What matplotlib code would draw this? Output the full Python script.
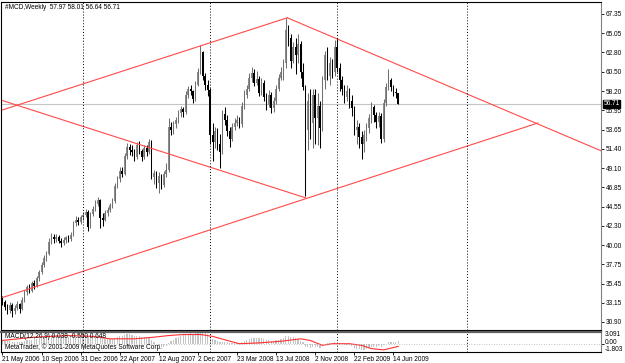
import numpy as np
import matplotlib
matplotlib.use("Agg")
import matplotlib.pyplot as plt

plt.rcParams["font.family"] = ["Liberation Sans Narrow", "Liberation Sans", "DejaVu Sans"]

# weekly candles, week 0 = 21 May 2006
opens = [33.6, 33.3, 32.7, 32.3, 32.9, 32.2, 32.6, 33.0, 32.4, 33.5,
         34.4, 35.0, 34.6, 35.5, 35.2, 36.1, 36.8, 37.7, 38.5, 38.9,
         40.4, 41.0, 40.7, 41.0, 40.5, 40.2, 40.6, 40.9, 40.7, 41.2,
         42.6, 43.0, 42.7, 43.3, 43.6, 43.9, 42.1, 43.7, 44.3, 44.9,
         45.3, 43.2, 43.0, 43.8, 44.2, 44.7, 45.2, 47.0, 47.8, 48.8,
         48.4, 50.5, 51.6, 51.2, 51.0, 50.4, 51.8, 51.1, 50.4, 51.5,
         51.0, 52.2, 48.0, 48.5, 47.3, 48.2, 47.1, 48.4, 48.9, 54.0,
         53.6, 54.3, 54.8, 55.6, 56.1, 55.7, 57.8, 58.5, 58.2, 57.3,
         59.0, 60.5, 62.8, 60.0, 59.0, 58.3, 53.0, 52.2, 53.5, 52.0,
         51.0, 55.5, 54.8, 53.5, 52.6, 54.0, 54.5, 54.8, 54.3, 56.5,
         57.8, 58.5, 59.8, 60.4, 59.2, 59.6, 58.0, 59.2, 57.5, 56.6,
         57.8, 56.2, 57.0, 58.5, 59.8, 60.5, 61.5, 65.5, 64.5, 61.8,
         63.5, 62.5, 63.8, 60.5, 58.7, 53.6, 57.0, 54.5, 57.8, 55.0,
         56.5, 53.8, 59.5, 62.5, 60.0, 61.5, 60.5, 63.5, 61.0, 59.5,
         58.5, 57.5, 58.2, 57.0, 56.2, 53.6, 54.0, 52.8, 52.0, 53.0,
         53.8, 55.0, 56.3, 55.4, 54.6, 55.3, 52.5, 56.8, 58.7, 59.5,
         58.7, 58.1, 57.97]
highs = [34.0, 33.5, 33.0, 33.3, 33.1, 32.9, 33.4, 33.2, 33.8, 34.7,
         35.3, 35.4, 35.8, 35.9, 36.4, 37.1, 38.0, 38.8, 39.3, 40.8,
         41.4, 41.3, 41.3, 41.2, 40.8, 40.9, 41.1, 41.2, 41.5, 42.9,
         43.4, 43.3, 43.6, 43.9, 44.3, 44.1, 43.9, 44.6, 45.3, 45.7,
         45.5, 43.8, 44.1, 44.5, 45.0, 45.6, 47.3, 48.2, 49.2, 49.3,
         50.9, 52.1, 52.0, 51.9, 51.4, 52.2, 52.3, 51.4, 51.9, 51.9,
         52.6, 52.4, 48.9, 48.8, 48.6, 48.4, 48.8, 49.7, 55.0, 54.6,
         54.7, 55.2, 56.0, 56.5, 56.4, 58.2, 58.8, 58.9, 58.4, 59.4,
         61.0, 63.7, 63.0, 60.4, 59.5, 58.6, 54.5, 54.0, 53.9, 53.2,
         56.0, 56.3, 55.4, 54.0, 54.5, 55.0, 55.4, 55.2, 56.9, 58.3,
         59.0, 60.4, 61.1, 60.8, 60.6, 60.0, 59.8, 59.5, 58.0, 58.3,
         58.1, 57.5, 58.9, 60.3, 61.1, 62.0, 66.9, 66.0, 65.0, 64.0,
         64.5, 65.0, 64.2, 61.5, 59.0, 58.0, 58.5, 58.5, 58.5, 58.0,
         57.0, 60.0, 63.0, 63.5, 62.3, 62.0, 64.3, 64.5, 61.5, 60.0,
         59.0, 59.0, 58.6, 57.8, 56.5, 54.8, 54.5, 53.5, 53.6, 54.4,
         55.5, 56.9, 56.6, 55.8, 55.8, 55.6, 57.3, 59.2, 60.8, 59.8,
         59.0, 58.6, 58.01]
lows = [32.9, 32.3, 31.8, 32.0, 31.5, 31.9, 32.3, 32.0, 32.3, 33.3,
        34.1, 34.3, 34.4, 34.8, 35.0, 35.8, 36.6, 37.4, 38.1, 38.8,
        40.1, 40.3, 40.4, 40.2, 39.8, 40.0, 40.3, 40.4, 40.5, 41.1,
        42.3, 42.4, 42.5, 43.0, 43.3, 41.7, 42.0, 43.4, 44.0, 44.6,
        42.0, 42.3, 42.8, 43.4, 43.9, 44.4, 45.0, 46.8, 47.5, 48.0,
        48.3, 50.2, 50.7, 50.5, 49.9, 50.2, 50.8, 49.9, 50.2, 50.6,
        50.8, 47.8, 47.2, 46.8, 46.2, 46.6, 46.9, 48.0, 48.7, 53.0,
        53.2, 53.9, 54.5, 55.2, 55.2, 55.5, 57.4, 57.8, 56.8, 57.1,
        58.8, 60.2, 59.5, 58.4, 57.6, 52.0, 50.0, 51.5, 51.3, 49.1,
        50.8, 54.2, 52.9, 51.6, 52.3, 53.6, 54.1, 53.8, 54.0, 56.1,
        57.4, 58.2, 59.3, 58.8, 58.9, 57.6, 57.8, 57.0, 56.0, 56.3,
        55.6, 55.8, 56.7, 58.2, 59.5, 59.5, 61.0, 63.6, 61.0, 61.5,
        60.2, 61.5, 59.8, 58.3, 45.8, 51.3, 52.5, 51.5, 52.0, 51.8,
        51.5, 53.5, 58.5, 59.5, 59.0, 59.8, 60.0, 60.5, 58.2, 57.8,
        56.8, 57.0, 56.2, 55.3, 53.0, 52.0, 51.5, 50.2, 51.0, 52.3,
        53.3, 54.5, 54.6, 53.8, 54.0, 52.1, 52.2, 56.5, 58.3, 58.2,
        57.6, 57.4, 56.64]
closes = [33.3, 32.7, 32.3, 32.9, 32.2, 32.6, 33.0, 32.4, 33.5, 34.4,
          35.0, 34.6, 35.5, 35.2, 36.1, 36.8, 37.7, 38.5, 38.9, 40.4,
          41.0, 40.7, 41.0, 40.5, 40.2, 40.6, 40.9, 40.7, 41.2, 42.6,
          43.0, 42.7, 43.3, 43.6, 43.9, 42.1, 43.7, 44.3, 44.9, 45.3,
          43.2, 43.0, 43.8, 44.2, 44.7, 45.2, 47.0, 47.8, 48.8, 48.4,
          50.5, 51.6, 51.2, 51.0, 50.4, 51.8, 51.1, 50.4, 51.5, 51.0,
          52.2, 48.0, 48.5, 47.3, 48.2, 47.1, 48.4, 48.9, 54.0, 53.6,
          54.3, 54.8, 55.6, 56.1, 55.7, 57.8, 58.5, 58.2, 57.3, 59.0,
          60.5, 62.8, 60.0, 59.0, 58.3, 53.0, 52.2, 53.5, 52.0, 51.0,
          55.5, 54.8, 53.5, 52.6, 54.0, 54.5, 54.8, 54.3, 56.5, 57.8,
          58.5, 59.8, 60.4, 59.2, 59.6, 58.0, 59.2, 57.5, 56.6, 57.8,
          56.2, 57.0, 58.5, 59.8, 60.5, 61.5, 65.5, 64.5, 61.8, 63.5,
          62.5, 63.8, 60.5, 58.7, 53.6, 57.0, 54.5, 57.8, 55.0, 56.5,
          53.8, 59.5, 62.5, 60.0, 61.5, 60.5, 63.5, 61.0, 59.5, 58.5,
          57.5, 58.2, 57.0, 56.2, 53.6, 54.0, 52.8, 52.0, 53.0, 53.8,
          55.0, 56.3, 55.4, 54.6, 55.3, 52.5, 56.8, 58.7, 59.5, 58.7,
          58.1, 57.97, 56.71]

# MACD subwindow (histogram = main line, red = signal)
macd_main = [0.9, 0.8, 0.7, 0.7, 0.6, 0.6, 0.6, 0.5, 0.6, 0.7,
             0.9, 1.0, 1.1, 1.2, 1.3, 1.5, 1.6, 1.8, 1.9, 2.1,
             2.2, 2.2, 2.2, 2.1, 2.0, 1.9, 1.8, 1.7, 1.7, 1.8,
             1.9, 1.9, 1.9, 1.9, 1.9, 1.7, 1.7, 1.7, 1.8, 1.8,
             1.6, 1.4, 1.3, 1.3, 1.3, 1.3, 1.5, 1.7, 1.9, 2.0,
             2.2, 2.4, 2.4, 2.3, 2.1, 2.1, 2.0, 1.8, 1.8, 1.7,
             1.7, 1.0, 0.5, 0.0, -0.3, -0.6, -0.6, -0.5, 0.3, 0.7,
             1.0, 1.4, 1.8, 2.1, 2.2, 2.4, 2.6, 2.7, 2.6, 2.7,
             2.8, 3.0, 2.9, 2.7, 2.4, 1.8, 1.3, 1.0, 0.7, 0.4,
             0.6, 0.6, 0.5, 0.3, 0.3, 0.3, 0.3, 0.3, 0.5, 0.8,
             1.0, 1.2, 1.4, 1.5, 1.5, 1.4, 1.4, 1.2, 1.0, 1.0,
             0.8, 0.8, 0.9, 1.1, 1.3, 1.5, 1.9, 2.0, 1.8, 1.8,
             1.5, 1.3, 0.8, 0.4, -0.6, -0.7, -0.9, -0.7, -0.8, -0.7,
             -0.9, -0.4, 0.1, 0.2, 0.3, 0.3, 0.5, 0.4, 0.2, 0.1,
             -0.1, -0.1, -0.3, -0.5, -0.9, -1.1, -1.3, -1.5, -1.4, -1.3,
             -1.0, -0.7, -0.6, -0.6, -0.5, -0.8, -0.3, 0.1, 0.4, 0.5,
             0.55, 0.6, 0.65]
sig_week = [0, 13, 27, 37, 44, 54, 62, 68, 74, 81, 86, 92, 97, 105, 114,
            122, 126, 131, 135, 142, 147, 151, 156, 162]
sig_val = [0.9, 1.7, 2.1, 1.9, 1.3, 1.3, 1.7, 2.1, 2.35, 2.35, 1.9, 0.9,
           0.1, 0.3, 0.7, 1.3, 0.9, -0.3, 0.1, 0.1, -0.3, -1.1, -1.4, -0.55]

price_ticks = [67.35, 65.05, 62.80, 60.50, 58.20, 55.95, 53.65, 51.40, 49.10,
               46.85, 44.55, 42.30, 40.00, 37.75, 35.45, 33.15, 30.90]
date_weeks = [0, 16, 32, 48, 64, 80, 96, 112, 128, 144, 160]
date_labels = ["21 May 2006", "10 Sep 2006", "31 Dec 2006", "22 Apr 2007",
               "12 Aug 2007", "2 Dec 2007", "23 Mar 2008", "13 Jul 2008",
               "2 Nov 2008", "22 Feb 2009", "14 Jun 2009"]
separators = [33, 85, 137, 190]

# trendlines: (week, price) endpoints
trend_lines = [
    ([-1, 116.6], [55.9, 66.9]),
    ([-1, 124.0], [57.2, 45.6]),
    ([-1, 219.2], [33.7, 54.45]),
    ([116.6, 245.5], [66.9, 51.1]),
]

FS = 4.7
W, H = 625, 363
fig = plt.figure(figsize=(W / 100, H / 100), dpi=100)
fig.patch.set_facecolor("white")

x0, x1 = 1 / W, 601 / W
ax = fig.add_axes([x0, 1 - 330 / H, x1 - x0, 328 / H])
am = fig.add_axes([x0, 1 - 351.5 / H, x1 - x0, 20 / H])

weeks = np.arange(len(closes))
o = np.array(opens)
c = np.array(closes)
up = c >= o
body_lo = np.minimum(o, c)
body_h = np.maximum(np.abs(c - o), 0.08)

ax.vlines(weeks[up], np.array(lows)[up], np.array(highs)[up], color="#707070", lw=0.75)
ax.vlines(weeks[~up], np.array(lows)[~up], np.array(highs)[~up], color="#000000", lw=0.75)
ax.bar(weeks[up], body_h[up], bottom=body_lo[up], width=0.62, color="#8c8c8c", linewidth=0)
ax.bar(weeks[~up], body_h[~up], bottom=body_lo[~up], width=0.62, color="#000000", linewidth=0)

ax.axhline(closes[-1], color="#c4c4c4", lw=0.8, zorder=0)
for xs, ys in trend_lines:
    ax.plot(xs, ys, color="#ff4a4a", lw=0.8)
for s in separators:
    for a in (ax, am):
        a.axvline(s, color="#000000", lw=0.7, ls=(0, (1, 2)))

ax.set_xlim(-0.6, 245)
ax.set_ylim(29.95, 68.77)
am.set_xlim(-0.6, 245)
am.set_ylim(-1.803, 3.091)

ax.set_xticks([])
ax.yaxis.tick_right()
ax.set_yticks(price_ticks)
ax.set_yticklabels([f"{t:.2f}" for t in price_ticks])
ax.tick_params(axis="y", direction="out", length=2, width=0.6, pad=1.5,
               labelsize=FS, colors="#000000")
ax.text(1.004, (closes[-1] - 29.95) / (68.77 - 29.95), f"{closes[-1]:.2f}",
        transform=ax.transAxes, fontsize=FS, color="white", va="center", ha="left",
        bbox=dict(boxstyle="square,pad=0.12", fc="black", ec="black"))
ax.text(0.006, 0.993, "#MCD,Weekly  57.97 58.01 56.64 56.71", transform=ax.transAxes,
        fontsize=FS, va="top", ha="left")

# MACD panel
am.bar(weeks, macd_main, width=0.5, color="#c4c4c4", linewidth=0)
am.plot(sig_week, sig_val, color="#ff3030", lw=0.8)
am.axhline(0, color="#b0b0b0", lw=0.6, ls=(0, (1, 2)))
am.set_yticks([0])
am.yaxis.tick_right()
am.set_yticklabels([])
am.tick_params(axis="y", direction="out", length=2, width=0.6)
am.text(1.006, 1.03, "3.091", transform=am.transAxes, fontsize=FS, va="top", ha="left")
am.text(1.006, 0.47, "0.00", transform=am.transAxes, fontsize=FS, va="center", ha="left")
am.text(1.006, 0.09, "-1.803", transform=am.transAxes, fontsize=FS, va="center", ha="left")
am.text(0.006, 0.95, "MACD(12,26,9) 0.038 -0.550 0.648", transform=am.transAxes,
        fontsize=FS, va="top", ha="left")
am.text(0.006, 0.04, "MetaTrader, \u00a9 2001-2009 MetaQuotes Software Corp.",
        transform=am.transAxes, fontsize=FS, va="bottom", ha="left")
am.set_xticks(date_weeks)
am.set_xticklabels(date_labels, ha="left")
am.tick_params(axis="x", direction="out", length=2, width=0.6, pad=1, labelsize=FS)

for a in (ax, am):
    for sp in a.spines.values():
        sp.set_color("#000000")
        sp.set_linewidth(0.8)
ax.spines["right"].set_color("#808080")
am.spines["right"].set_color("#808080")
am.spines["top"].set_color("#606060")
am.spines["top"].set_linewidth(1.6)

fig.savefig("out.png", dpi=100)
